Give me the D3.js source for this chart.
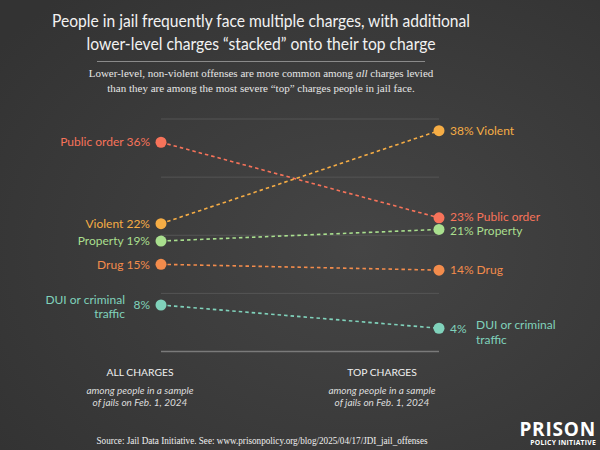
<!DOCTYPE html>
<html>
<head>
<meta charset="utf-8">
<script src="https://cdn.jsdelivr.net/npm/d3@7"></script>
<style>
  body { margin: 0; background: #3b3b3b; }
  svg { display: block; }
</style>
</head>
<body>
<div id="chart"></div>
<script>
// charge categories and their shares (%) among all charges vs top charges
const categories = ["Public order", "Violent", "Property", "Drug", "DUI or criminal traffic"]
const allCharges = [36, 22, 19, 15, 8]
const topCharges = [23, 38, 21, 14, 4]
const colorList = ["#f7735a", "#f6ad45", "#a9df8e", "#f38c4c", "#80d2bb"]
const gridTicks = [0, 10, 20, 30, 40]
const columnLabels = ["ALL CHARGES", "TOP CHARGES"]

const width = 600, height = 450
const sans = "Lato, 'Open Sans', sans-serif"
const serif = "'Liberation Serif', 'Times New Roman', serif"

const svg = d3.select("#chart").append("svg")
    .attr("width", width)
    .attr("height", height)

// background with soft vignette
const defs = svg.append("defs")
const grad = defs.append("radialGradient").attr("id", "bg")
    .attr("cx", "60%").attr("cy", "55%").attr("r", "75%")
grad.append("stop").attr("offset", "0%").attr("stop-color", "#454545")
grad.append("stop").attr("offset", "100%").attr("stop-color", "#333333")
svg.append("rect").attr("width", width).attr("height", height).attr("fill", "url(#bg)")

// title (widths matched to the original, narrower typeface)
const titleLines = ["People in jail frequently face multiple charges, with additional",
    "lower-level charges \u201cstacked\u201d onto their top charge"]
const titleWidths = [418, 349]
svg.append("text")
    .attr("text-anchor", "middle")
    .attr("font-family", sans)
    .attr("font-size", 18)
    .attr("fill", "#f2f2f2")
    .selectAll("tspan")
    .data(titleLines)
    .join("tspan")
    .attr("x", 261)
    .attr("y", (d, i) => 27 + i * 22.5)
    .attr("textLength", (d, i) => titleWidths[i])
    .attr("lengthAdjust", "spacingAndGlyphs")
    .text(d => d)

svg.append("line")
    .attr("x1", 97).attr("x2", 425)
    .attr("y1", 61.5).attr("y2", 61.5)
    .attr("stroke", "#8a8a8a").attr("stroke-width", 1)

const sub = svg.append("text")
    .attr("text-anchor", "middle")
    .attr("font-family", serif)
    .attr("font-size", 11)
    .attr("fill", "#e6e6e6")
const sub1 = sub.append("tspan").attr("x", 261).attr("y", 76.5)
sub1.append("tspan").text("Lower-level, non-violent offenses are more common among ")
sub1.append("tspan").attr("font-style", "italic").text("all")
sub1.append("tspan").text(" charges levied")
sub.append("tspan").attr("x", 261).attr("y", 91.5)
    .text("than they are among the most severe \u201ctop\u201d charges people in jail face.")

// slope chart
const x = d3.scalePoint().domain(columnLabels).range([161, 439])
const y = d3.scaleLinear().domain([0, 40]).range([351.5, 119])
const color = d3.scaleOrdinal().domain(categories).range(colorList)

const grid = svg.append("g")
grid.selectAll("line")
    .data(gridTicks)
    .join("line")
    .attr("x1", x(columnLabels[0]))
    .attr("x2", x(columnLabels[1]))
    .attr("y1", d => y(d))
    .attr("y2", d => y(d))
    .attr("stroke", d => d === 0 ? "#7a7a7a" : "#555555")
    .attr("stroke-width", d => d === 0 ? 1.5 : 1)

const rows = categories.map((c, i) => ({ name: c, all: allCharges[i], top: topCharges[i] }))

svg.append("g").selectAll("line")
    .data(rows)
    .join("line")
    .attr("x1", x(columnLabels[0]))
    .attr("x2", x(columnLabels[1]))
    .attr("y1", d => y(d.all))
    .attr("y2", d => y(d.top))
    .attr("stroke", d => color(d.name))
    .attr("stroke-width", 1.6)
    .attr("stroke-dasharray", "3.5,3")

const dots = svg.append("g")
dots.selectAll("circle.all")
    .data(rows)
    .join("circle")
    .attr("class", "all")
    .attr("cx", x(columnLabels[0]))
    .attr("cy", d => y(d.all))
    .attr("r", 5.5)
    .attr("fill", d => color(d.name))
dots.selectAll("circle.top")
    .data(rows)
    .join("circle")
    .attr("class", "top")
    .attr("cx", x(columnLabels[1]))
    .attr("cy", d => y(d.top))
    .attr("r", 5.5)
    .attr("fill", d => color(d.name))

// labels: names wrapped onto two lines when long
function nameLines(name) {
    return name === "DUI or criminal traffic" ? ["DUI or criminal", "traffic"] : [name]
}

const labelSize = 12
// small vertical nudges so close labels don't collide (right column)
const rightNudge = { "Public order": -1.5, "Property": 1 }

const leftLabels = svg.append("g")
    .attr("font-family", sans)
    .attr("font-size", labelSize)
rows.forEach(d => {
    const cy = y(d.all)
    const lines = nameLines(d.name)
    if (lines.length === 1) {
        leftLabels.append("text")
            .attr("x", 150).attr("y", cy).attr("dy", "0.35em")
            .attr("text-anchor", "end")
            .attr("fill", color(d.name))
            .text(`${d.name} ${d.all}%`)
    } else {
        leftLabels.append("text")
            .attr("x", 150).attr("y", cy).attr("dy", "0.35em")
            .attr("text-anchor", "end")
            .attr("fill", color(d.name))
            .text(`${d.all}%`)
        leftLabels.append("text")
            .attr("text-anchor", "end")
            .attr("fill", color(d.name))
            .selectAll("tspan")
            .data(lines)
            .join("tspan")
            .attr("x", 125)
            .attr("y", (t, i) => cy - 5 + i * 14)
            .attr("dy", "0.35em")
            .text(t => t)
    }
})

const rightLabels = svg.append("g")
    .attr("font-family", sans)
    .attr("font-size", labelSize)
rows.forEach(d => {
    const cy = y(d.top) + (rightNudge[d.name] || 0)
    const lines = nameLines(d.name)
    if (lines.length === 1) {
        rightLabels.append("text")
            .attr("x", 450).attr("y", cy).attr("dy", "0.35em")
            .attr("fill", color(d.name))
            .text(`${d.top}% ${d.name}`)
    } else {
        rightLabels.append("text")
            .attr("x", 450).attr("y", cy + 1).attr("dy", "0.35em")
            .attr("fill", color(d.name))
            .text(`${d.top}%`)
        rightLabels.append("text")
            .attr("fill", color(d.name))
            .selectAll("tspan")
            .data(lines)
            .join("tspan")
            .attr("x", 476)
            .attr("y", (t, i) => cy - 3 + i * 15)
            .attr("dy", "0.35em")
            .text(t => t)
    }
})

// column captions
const captionX = [140, 382]
columnLabels.forEach((lab, i) => {
    const g = svg.append("g").attr("font-family", sans).attr("text-anchor", "middle")
    g.append("text")
        .attr("x", captionX[i]).attr("y", 375.5)
        .attr("font-size", 10.3)
        .attr("fill", "#f0f0f0")
        .text(lab)
    g.append("text")
        .attr("font-size", 10)
        .attr("font-style", "italic")
        .attr("fill", "#dcdcdc")
        .selectAll("tspan")
        .data(["among people in a sample", "of jails on Feb. 1, 2024"])
        .join("tspan")
        .attr("x", captionX[i])
        .attr("y", (t, j) => 394 + j * 12)
        .text(t => t)
})

// source
svg.append("text")
    .attr("x", 262).attr("y", 444)
    .attr("text-anchor", "middle")
    .attr("font-family", serif)
    .attr("font-size", 11)
    .attr("textLength", 331)
    .attr("lengthAdjust", "spacingAndGlyphs")
    .attr("fill", "#f0f0f0")
    .text("Source: Jail Data Initiative. See: www.prisonpolicy.org/blog/2025/04/17/JDI_jail_offenses")

// logo
svg.append("text")
    .attr("x", 596).attr("y", 436)
    .attr("text-anchor", "end")
    .attr("font-family", "'Open Sans', sans-serif")
    .attr("font-weight", "bold")
    .attr("font-size", 19)
    .attr("letter-spacing", 0.8)
    .attr("fill", "#ffffff")
    .text("PRISON")
svg.append("text")
    .attr("x", 596).attr("y", 445)
    .attr("text-anchor", "end")
    .attr("font-family", "'Open Sans', sans-serif")
    .attr("font-weight", "bold")
    .attr("font-size", 6.8)
    .attr("letter-spacing", 0.25)
    .attr("fill", "#ffffff")
    .text("POLICY INITIATIVE")
</script>
</body>
</html>
